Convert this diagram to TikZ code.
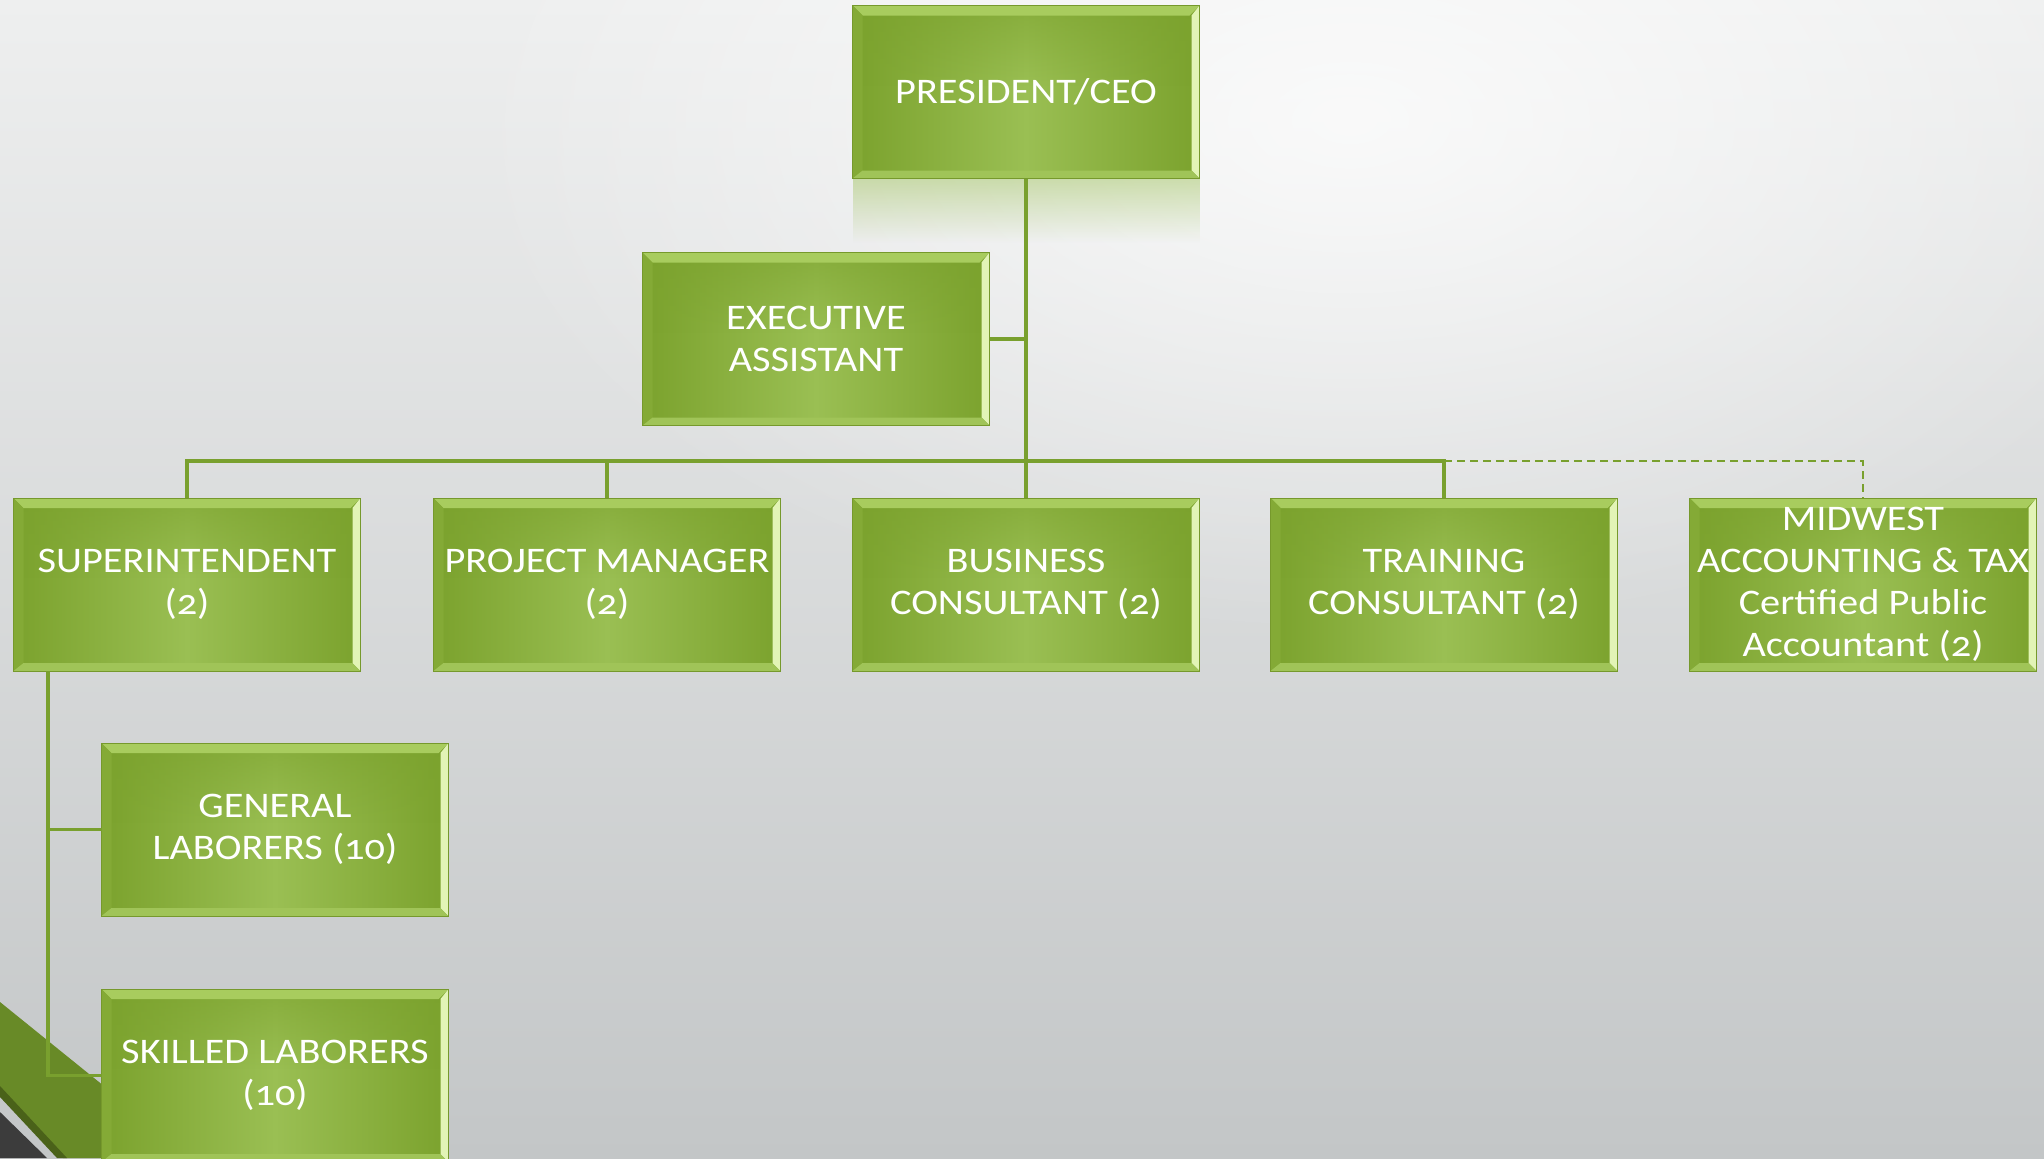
\documentclass[tikz,border=0pt]{standalone}
\usepackage{fontspec}
\setmainfont{Carlito}[Numbers=OldStyle, FakeStretch=1.12]
\usetikzlibrary{calc,fadings}
\definecolor{bgtop}{HTML}{EEEFEF}
\definecolor{bgbot}{HTML}{C3C6C7}
\definecolor{boxedge}{HTML}{7BA22D}
\definecolor{boxmid}{HTML}{9ABF53}
\definecolor{boxline}{HTML}{76992C}
\definecolor{bevtop}{HTML}{A8CC5E}
\definecolor{bevright}{HTML}{E2F4B6}
\definecolor{bevleft}{HTML}{84AA36}
\definecolor{bevbot}{HTML}{A0C458}
\definecolor{wireclr}{HTML}{79A02E}
\definecolor{bandgreen}{HTML}{688A27}
\definecolor{banddark}{HTML}{4A6219}
\definecolor{cornergrey}{HTML}{3C3C3C}
\tikzfading[name=glow, inner color=transparent!0, outer color=transparent!100]
\newcommand{\orgfont}{\fontsize{18}{21}\selectfont}

\tikzset{
  orgbox/.style={minimum width=173.5pt, minimum height=86.5pt, inner sep=0pt,
    outer sep=0pt, align=center, text=white, font=\orgfont, draw=boxline, line width=0.5pt,
    path picture={
      \shade[left color=boxedge, right color=boxedge, middle color=boxmid]
        (path picture bounding box.south west) rectangle (path picture bounding box.north east);
      \fill[boxedge, fill opacity=0.6, path fading=south]
        (path picture bounding box.north west) rectangle ([yshift=-40pt]path picture bounding box.north east);
      \fill[bevtop] (path picture bounding box.north west) -- (path picture bounding box.north east)
        -- ([xshift=-5pt,yshift=-5pt]path picture bounding box.north east)
        -- ([xshift=5pt,yshift=-5pt]path picture bounding box.north west) -- cycle;
      \fill[bevright] (path picture bounding box.north east) -- (path picture bounding box.south east)
        -- ([xshift=-4pt,yshift=4pt]path picture bounding box.south east)
        -- ([xshift=-4pt,yshift=-5pt]path picture bounding box.north east) -- cycle;
      \fill[bevleft] (path picture bounding box.north west) -- (path picture bounding box.south west)
        -- ([xshift=5pt,yshift=4pt]path picture bounding box.south west)
        -- ([xshift=5pt,yshift=-5pt]path picture bounding box.north west) -- cycle;
      \fill[bevbot] (path picture bounding box.south west) -- (path picture bounding box.south east)
        -- ([xshift=-4pt,yshift=4pt]path picture bounding box.south east)
        -- ([xshift=5pt,yshift=4pt]path picture bounding box.south west) -- cycle;
    }},
  orgline/.style={draw=wireclr, line width=1.6pt},
  dashline/.style={draw=wireclr, line width=1.3pt, dash pattern=on 4pt off 2.5pt}
}

\begin{document}
\begin{tikzpicture}[x=0.5pt,y=-0.5pt]
\clip (0,0) rectangle (2044,1158);
% background
\shade[top color=bgtop, bottom color=bgbot] (0,0) rectangle (2044,1158);
\fill[white, path fading=glow, fill opacity=0.75] (1350,120) ellipse (900 and 520);
\fill[bandgreen] (0,1002) -- (193,1158) -- (63,1158) -- (0,1090) -- cycle;
\fill[banddark] (0,1086) -- (67,1158) -- (57,1158) -- (0,1097) -- cycle;
\fill[cornergrey] (0,1112) -- (47,1158) -- (0,1158) -- cycle;

% boxes
\node[orgbox] (pres) at (1026,92) {PRESIDENT/CEO};
\fill[boxmid, fill opacity=0.45, path fading=south] (pres.south west) rectangle ([yshift=-32pt]pres.south east);
\node[orgbox] (exec) at (816,339) {EXECUTIVE\\ASSISTANT};
\node[orgbox] (super) at (187,584.5) {SUPERINTENDENT\\(2)};
\node[orgbox] (pm) at (607,584.5) {PROJECT MANAGER\\(2)};
\node[orgbox] (biz) at (1026,584.5) {BUSINESS\\CONSULTANT (2)};
\node[orgbox] (train) at (1444,584.5) {TRAINING\\CONSULTANT (2)};
\node[orgbox] (mid) at (1863,584.5) {MIDWEST\\ACCOUNTING \& TAX\\Certified Public\\Accountant (2)};
\node[orgbox] (gen) at (275,829.5) {GENERAL\\LABORERS (10)};
\node[orgbox] (skill) at (275,1075.5) {SKILLED LABORERS\\(10)};

% connectors
\coordinate (bus) at (1026,461);
\coordinate (spine) at (48,671);
\draw[orgline] (pres.south) -- (biz.north);
\draw[orgline] (exec.east) -- (exec.east -| pres.south);
\draw[orgline] (super.north) |- (bus) -| (train.north);
\draw[orgline] (pm.north) -- (pm.north |- bus);
\draw[dashline] (train.north |- bus) -| (mid.north);
\draw[orgline] (spine) |- (skill.west);
\draw[orgline] (gen.west) -- (gen.west -| spine);
\end{tikzpicture}
\end{document}
